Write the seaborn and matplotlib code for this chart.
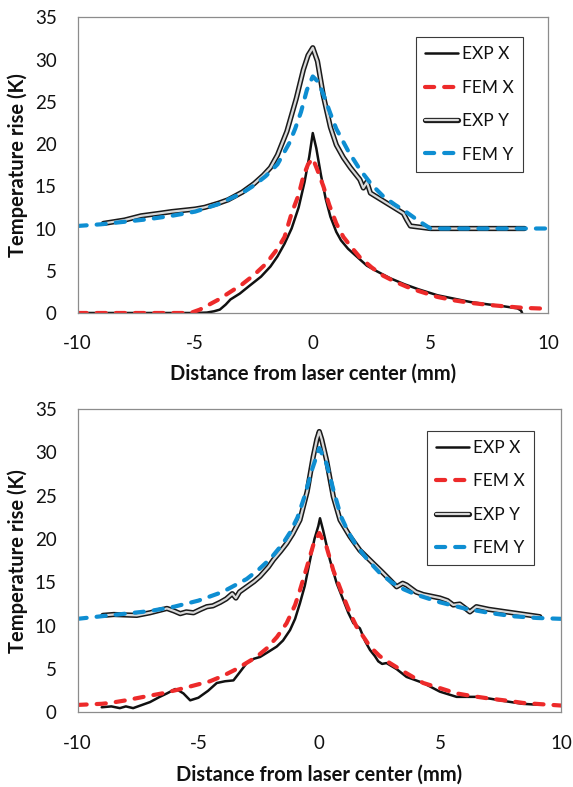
import matplotlib
matplotlib.use("Agg")
import matplotlib.pyplot as plt
import matplotlib.patheffects as pe
import seaborn as sns

# painel superior
top_exp_x_x = [-10, -5, -4.5, -4.2, -3.95, -3.7, -3.5, -3.1, -2.7, -2.2, -1.8, -1.5, -1.2, -0.9, -0.6, -0.35, -0.15, 0,
               0.15, 0.35, 0.55, 0.75, 1.0, 1.2, 1.5, 1.9, 2.3, 2.75, 3.3, 3.9, 4.5, 5.3, 6, 6.7, 7.5, 8.1, 8.7, 8.85, 8.9]
top_exp_x_y = [0, 0, 0.05, 0.2, 0.4, 1.0, 1.6, 2.3, 3.2, 4.3, 5.5, 6.7, 8.2, 10.0, 12.5, 15.5, 18.5, 21.3,
               19.5, 16.3, 13.5, 11.4, 9.6, 8.6, 7.6, 6.6, 5.6, 4.9, 4.1, 3.4, 2.8, 2.1, 1.7, 1.3, 1.0, 0.8, 0.55, 0.3, 0.0]

top_fem_x_x = [-10, -5.2, -4.8, -4.4, -4, -3.5, -3, -2.5, -2, -1.5, -1.2, -0.9, -0.6, -0.4, -0.2, 0, 0.2, 0.45, 0.7,
               1.0, 1.3, 1.7, 2.0, 2.5, 3, 3.5, 4, 4.5, 5.3, 6, 6.7, 7.5, 8.1, 9, 10]
top_fem_x_y = [0, 0, 0.4, 1.0, 1.6, 2.5, 3.4, 4.5, 5.8, 7.6, 9.0, 11.8, 14.0, 16.2, 17.6, 18.3, 16.9, 15.0, 12.8,
               10.6, 9.0, 7.6, 6.6, 5.4, 4.4, 3.7, 3.1, 2.6, 1.9, 1.5, 1.2, 0.95, 0.8, 0.6, 0.5]

top_exp_y_x = [-8.9, -8, -7.3, -6.5, -6, -5, -4.6, -4, -3.6, -3, -2.5, -2.1, -1.8, -1.5, -1.1, -0.7, -0.4, -0.2, 0,
               0.2, 0.45, 0.75, 1.0, 1.3, 1.6, 2.0, 2.15, 2.3, 2.45, 2.8, 3.15, 3.5, 3.85, 4.0, 4.15, 5.0, 6, 7, 8, 9.0]
top_exp_y_y = [10.6, 11.0, 11.5, 11.8, 12.0, 12.3, 12.5, 13.0, 13.4, 14.3, 15.3, 16.3, 17.2, 18.7, 21.5, 25.4,
               28.8, 30.5, 31.4, 29.8, 25.7, 22.0, 19.9, 18.4, 17.2, 15.8, 14.8, 15.5, 14.2, 13.6, 13.0, 12.4, 11.8,
               11.0, 10.3, 10.0, 10.0, 10.0, 10.0, 10.0]

top_fem_y_x = [-10, -9, -8, -7, -6, -5, -4, -3, -2.5, -2, -1.5, -1, -0.75, -0.5, -0.25, 0, 0.25, 0.5, 0.75, 1,
               1.5, 2, 2.5, 3, 3.5, 4, 4.5, 5, 6, 7, 8, 9, 10]
top_fem_y_y = [10.3, 10.5, 10.8, 11.1, 11.5, 12.0, 12.9, 14.2, 15.1, 16.2, 17.6, 20.1, 21.8, 23.8, 26.4, 28.0,
               27.3, 25.5, 23.6, 21.8, 19.2, 17.0, 15.2, 13.8, 12.8, 11.9, 10.9, 10.0, 10.0, 10.0, 10.0, 10.0, 10.0]

# painel inferior
bot_exp_x_x = [-9.0, -8.6, -8.25, -8.0, -7.7, -7.3, -7.0, -6.6, -6.3, -5.96, -5.8, -5.62, -5.34, -5.0, -4.6, -4.24,
               -3.9, -3.55, -3.3, -3.0, -2.7, -2.45, -2.1, -1.76, -1.5, -1.21, -1.0, -0.8, -0.6, -0.38, -0.2,
               -0.04, 0.03, 0.16, 0.3, 0.44, 0.72, 0.99, 1.2, 1.41, 1.55, 1.68, 1.9, 2.1, 2.3, 2.44, 2.6, 2.78,
               3.2, 3.61, 4.3, 4.99, 5.68, 6.1, 6.5, 7.05, 7.7, 8.4, 9.0]
bot_exp_x_y = [0.6, 0.7, 0.5, 0.7, 0.5, 0.9, 1.2, 1.8, 2.2, 2.7, 2.5, 2.2, 1.4, 1.7, 2.5, 3.4,
               3.6, 3.7, 4.6, 5.7, 6.2, 6.4, 7.0, 7.6, 8.3, 9.5, 10.8, 12.6, 14.6, 17.6, 20.0,
               21.5, 22.4, 21.0, 19.3, 17.6, 14.9, 13.0, 11.5, 10.3, 10.0, 9.7, 8.2, 7.2, 6.5, 5.9, 5.6, 5.7,
               5.0, 4.1, 3.4, 2.4, 1.8, 1.8, 1.8, 1.6, 1.3, 1.0, 0.9]

bot_fem_x_x = [-10, -9, -8.65, -8, -7.27, -6.5, -5.89, -5.2, -4.52, -4, -3.5, -3.14, -2.6, -2.17, -1.75, -1.35,
               -1.0, -0.8, -0.5, -0.25, 0, 0.3, 0.58, 0.99, 1.3, 1.54, 2.1, 2.5, 2.92, 3.5, 4.3, 5.0, 5.68, 6.3,
               7.05, 7.8, 8.43, 9.2, 10]
bot_fem_x_y = [0.87, 1.0, 1.1, 1.4, 1.8, 2.2, 2.6, 3.1, 3.6, 4.2, 4.9, 5.5, 6.4, 7.4, 8.7, 10.3,
               12.4, 14.1, 16.9, 19.3, 20.7, 19.1, 16.4, 13.4, 11.3, 9.9, 7.6, 6.5, 5.7, 4.7, 3.4, 2.8, 2.2, 1.9,
               1.6, 1.35, 1.1, 0.95, 0.8]

bot_exp_y_x = [-8.95, -8.5, -7.55, -7, -6.3, -6.0, -5.75, -5.5, -5.2, -4.9, -4.65, -4.4, -4.1, -3.85, -3.6, -3.45,
               -3.3, -3.0, -2.7, -2.45, -2.1, -1.9, -1.6, -1.35, -1.1, -0.8, -0.5, -0.25, -0.1, 0, 0.1, 0.3, 0.58,
               0.86, 1.27, 1.68, 2.23, 2.6, 2.92, 3.2, 3.45, 3.61, 4.0, 4.3, 4.99, 5.3, 5.54, 5.81, 6.05, 6.23, 6.5,
               7.0, 7.74, 8.5, 9.12]
bot_exp_y_y = [11.2, 11.3, 11.2, 11.5, 12.0, 11.7, 11.4, 11.6, 11.5, 11.9, 12.2, 12.3, 12.7, 13.1, 13.7, 13.2,
               13.9, 14.5, 15.1, 15.7, 16.8, 17.6, 18.6, 19.5, 20.6, 22.2, 25.5, 29.5, 31.5, 32.4, 31.5, 29.1, 24.9,
               22.2, 20.3, 18.7, 17.2, 16.2, 15.3, 14.5, 14.9, 14.7, 13.9, 13.6, 13.2, 12.9, 12.4, 12.5, 12.0, 11.6,
               12.2, 11.9, 11.6, 11.3, 11.05]

bot_fem_y_x = [-10, -9, -8, -7, -6, -5, -4, -3, -2.5, -2, -1.5, -1.2, -0.9, -0.6, -0.3, 0, 0.3, 0.6, 0.9, 1.2,
               1.5, 2, 2.5, 3, 3.5, 4, 5, 6, 7, 8, 9, 10]
bot_fem_y_y = [10.8, 11.1, 11.4, 11.7, 12.2, 12.9, 13.9, 15.4, 16.5, 17.8, 19.5, 20.8, 22.5, 25.0, 28.0, 30.5,
               28.7, 25.5, 22.6, 20.8, 19.4, 17.6, 16.1, 15.0, 14.2, 13.6, 12.7, 12.0, 11.5, 11.1, 10.9, 10.8]

labels = ["EXP X", "FEM X", "EXP Y", "FEM Y"]
x_ticks = [-10, -5, 0, 5, 10]
y_ticks = [0, 5, 10, 15, 20, 25, 30, 35]

sns.set_theme(style="white")
plt.rcParams['font.family'] = ['Lato', 'DejaVu Sans']

RED = '#ED2A2A'
BLUE = '#0E8ED2'
GRAY = '#8C8C8C'

fig = plt.figure(figsize=(5.73, 7.87), dpi=100)
ax1 = fig.add_axes([0.1353, 0.6023, 0.8211, 0.3757])
ax2 = fig.add_axes([0.1353, 0.0947, 0.8438, 0.3856])

dash = (0, (2.2, 2.4))
exp_y_fx = [pe.Stroke(linewidth=3.8, foreground='#1a1a1a'), pe.Normal()]


def painel(ax, ex_x, ex_y, fx_x, fx_y, ey_x, ey_y, fy_x, fy_y, leg_pos):
    sns.lineplot(x=ex_x, y=ex_y, ax=ax, color='#111111', lw=1.8, label=labels[0])
    sns.lineplot(x=fx_x, y=fx_y, ax=ax, color=RED, lw=3, linestyle=dash,
                 dash_capstyle='round', label=labels[1])
    sns.lineplot(x=ey_x, y=ey_y, ax=ax, color='#d9d9d9', lw=1.6,
                 path_effects=exp_y_fx, label=labels[2])
    sns.lineplot(x=fy_x, y=fy_y, ax=ax, color=BLUE, lw=3, linestyle=dash,
                 dash_capstyle='round', label=labels[3])

    ax.set_xlim(-10, 10)
    ax.set_ylim(0, 35)
    ax.set_xticks(x_ticks)
    ax.set_yticks(y_ticks)
    ax.set_xticklabels([str(t) for t in x_ticks])
    ax.set_yticklabels([str(t) for t in y_ticks])
    ax.tick_params(axis='both', direction='in', length=7, width=0.8, color=GRAY,
                   labelsize=13.5, labelcolor='#111111')
    ax.tick_params(axis='x', pad=16)
    ax.tick_params(axis='y', pad=15)
    for s in ax.spines.values():
        s.set_visible(True)
        s.set_color(GRAY)
        s.set_linewidth(0.9)

    ax.set_xlabel('Distance from laser center (mm)', fontsize=14.5, fontweight='bold', color='#111111')
    ax.set_ylabel('Temperature rise (K)', fontsize=14.5, fontweight='bold', color='#111111')

    leg = ax.legend(loc='upper left', bbox_to_anchor=leg_pos, borderaxespad=0,
                    fontsize=12.5, handlelength=1.9, handletextpad=0.23,
                    labelspacing=1.0, borderpad=0.52, fancybox=False,
                    framealpha=1, edgecolor='#3a3a3a')
    leg.get_frame().set_linewidth(0.8)
    for t in leg.get_texts():
        t.set_color('#111111')


painel(ax1, top_exp_x_x, top_exp_x_y, top_fem_x_x, top_fem_x_y,
       top_exp_y_x, top_exp_y_y, top_fem_y_x, top_fem_y_y, (0.7195, 0.932))
painel(ax2, bot_exp_x_x, bot_exp_x_y, bot_fem_x_x, bot_fem_x_y,
       bot_exp_y_x, bot_exp_y_y, bot_fem_y_x, bot_fem_y_y, (0.7229, 0.9275))

ax1.yaxis.set_label_coords(-0.105, 0.5)
ax2.yaxis.set_label_coords(-0.102, 0.5)
ax1.xaxis.set_label_coords(0.5, -0.172)
ax2.xaxis.set_label_coords(0.5, -0.172)

fig.savefig('out.png', dpi=100, facecolor='white')
